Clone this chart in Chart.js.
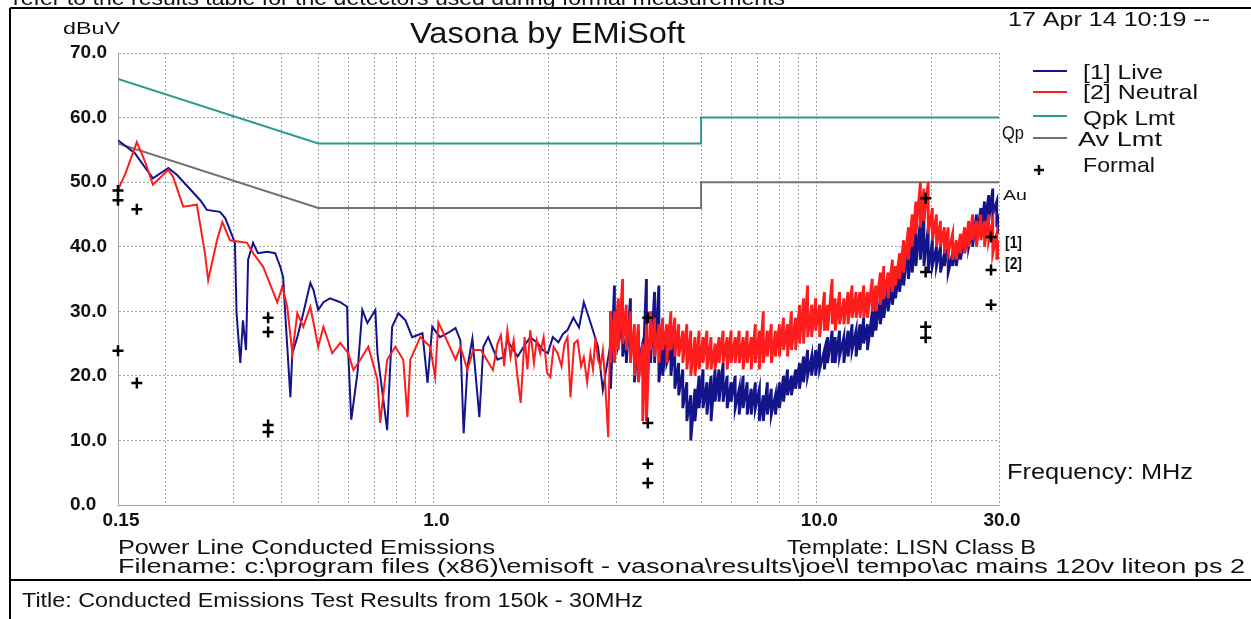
<!DOCTYPE html>
<html>
<head>
<meta charset="utf-8">
<title>Vasona by EMiSoft</title>
<script src="https://cdn.jsdelivr.net/npm/chart.js@4.4.1/dist/chart.umd.min.js"></script>
<style>
    html, body { margin: 0; padding: 0; background: #ffffff; }
    #wrap { position: relative; width: 1251px; height: 619px; }
</style>
</head>
<body>
<div id="wrap"><canvas id="emiChart" width="1251" height="619"></canvas></div>

<script>

// ---- data (MHz / dBuV) ----

const liveFreq = [0.150, 0.166, 0.185, 0.203, 0.214, 0.246, 0.256, 0.277, 0.286, 0.294,
    0.303, 0.306, 0.313, 0.318, 0.324, 0.328, 0.338, 0.348, 0.368, 0.386,
    0.398, 0.405, 0.410, 0.423, 0.428, 0.441, 0.457, 0.477, 0.486, 0.500,
    0.516, 0.537, 0.571, 0.595, 0.599, 0.610, 0.633, 0.652, 0.672, 0.705,
    0.714, 0.757, 0.780, 0.810, 0.845, 0.880, 0.936, 0.965, 0.993, 1.04,
    1.088, 1.142, 1.176, 1.199, 1.227, 1.264, 1.318, 1.35, 1.39, 1.435,
    1.47, 1.524, 1.56, 1.618, 1.66, 1.72, 1.79, 1.87, 1.93, 1.99,
    2.05, 2.12, 2.18, 2.24, 2.32, 2.40, 2.47, 2.57, 2.69, 2.77];

const liveLevel = [56.5, 54.5, 50.6, 52.2, 51.1, 47.2, 45.7, 45.4, 44.4, 42.6,
    40.6, 29.7, 22.0, 28.6, 24.0, 38.0, 40.6, 39.0, 39.2, 39.0,
    36.9, 35.3, 29.7, 16.7, 23.5, 26.0, 29.7, 34.4, 33.3, 30.2,
    31.4, 32.0, 31.4, 30.7, 23.5, 13.2, 20.4, 30.2, 28.2, 30.2,
    23.5, 11.6, 27.6, 29.7, 28.6, 26.0, 26.6, 18.9, 27.6, 26.0,
    26.6, 27.4, 25.5, 11.1, 21.4, 25.8, 13.6, 24.5, 26.0, 24.0,
    22.5, 22.9, 25.5, 24.0, 23.0, 24.5, 26.0, 25.1, 24.0, 23.5,
    26.0, 25.2, 26.5, 27.1, 29.0, 27.5, 31.4, 28.3, 24.5, 17.8];

const neutralFreq = [0.150, 0.157, 0.168, 0.177, 0.185, 0.203, 0.209, 0.222, 0.241, 0.253,
    0.258, 0.272, 0.281, 0.294, 0.326, 0.338, 0.359, 0.391, 0.403, 0.415,
    0.428, 0.441, 0.457, 0.477, 0.500, 0.516, 0.544, 0.571, 0.599, 0.618,
    0.644, 0.676, 0.714, 0.726, 0.757, 0.795, 0.834, 0.855, 0.870, 0.924,
    0.981, 1.01, 1.03, 1.074, 1.142, 1.176, 1.227, 1.27, 1.33, 1.43,
    1.47, 1.50, 1.53, 1.56, 1.59, 1.62, 1.66, 1.69, 1.73, 1.76,
    1.79, 1.83, 1.86, 1.90, 1.94, 1.98, 2.02, 2.06, 2.11, 2.16,
    2.20, 2.24, 2.28, 2.33, 2.38, 2.43, 2.47, 2.52, 2.57, 2.61,
    2.65, 2.69, 2.73, 2.77, 2.80, 2.86];

const neutralLevel = [48.8, 51.4, 56.2, 53.0, 49.6, 51.9, 50.8, 46.2, 46.5, 39.0,
    34.8, 41.0, 43.8, 41.0, 40.6, 39.0, 36.9, 31.4, 33.8, 30.7,
    23.5, 29.7, 27.6, 30.7, 24.5, 27.6, 23.5, 25.1, 23.5, 20.9,
    22.5, 24.5, 19.4, 12.7, 22.5, 24.5, 22.5, 13.6, 22.5, 26.0,
    24.5, 19.8, 28.3, 26.0, 22.5, 24.5, 20.9, 24.0, 24.0, 20.9,
    25.0, 26.3, 21.5, 27.0, 22.9, 25.5, 19.5, 15.8, 26.0, 21.0,
    27.1, 22.0, 25.5, 23.5, 26.0, 20.5, 19.8, 24.5, 23.5, 21.5,
    25.0, 26.0, 16.7, 25.0, 25.5, 21.5, 22.9, 19.0, 23.5, 21.0,
    26.0, 22.5, 21.4, 24.0, 20.4, 10.5];

// dense sweep above ~3 MHz: top and bottom of each trace's noise band
const sweepFreq = [2.90, 2.97, 3.04, 3.12, 3.19, 3.27, 3.35, 3.43, 3.52, 3.60,
    3.69, 3.78, 3.88, 3.97, 4.07, 4.17, 4.27, 4.37, 4.48, 4.59,
    4.70, 4.82, 4.94, 5.06, 5.18, 5.31, 5.44, 5.57, 5.71, 5.85,
    5.99, 6.14, 6.29, 6.44, 6.60, 6.76, 6.93, 7.10, 7.27, 7.45,
    7.63, 7.82, 8.01, 8.21, 8.41, 8.61, 8.83, 9.04, 9.26, 9.49,
    9.72, 9.96, 10.2, 10.5, 10.7, 11.0, 11.2, 11.5, 11.8, 12.1,
    12.4, 12.7, 13.0, 13.3, 13.6, 14.0, 14.3, 14.7, 15.0, 15.4,
    15.8, 16.1, 16.5, 16.9, 17.4, 17.8, 18.2, 18.7, 19.1, 19.6,
    20.1, 20.6, 21.1, 21.6, 22.1, 22.7, 23.2, 23.8, 24.4, 25.0,
    25.6, 26.2, 26.9, 27.5, 28.2, 28.9, 29.6, 30.0];

const neutralTop = [30, 30, 32, 35, 31, 30, 28, 28, 25, 28,
    30, 29, 28, 29, 28, 30, 29, 28, 27, 28,
    27, 26, 27, 26, 27, 26, 25, 26, 27, 26,
    27, 26, 27, 26, 27, 26, 28, 27, 30, 27,
    28, 27, 28, 29, 28, 30, 29, 31, 32, 34,
    31, 32, 31, 33, 31, 35, 32, 33, 32, 33,
    34, 33, 33, 34, 33, 35, 34, 36, 37, 36,
    38, 37, 39, 41, 43, 45, 47, 50, 49, 50,
    46, 45, 44, 43, 43, 42, 41, 42, 43, 44,
    45, 44, 45, 44, 45, 44, 42, 41];

const neutralBottom = [22, 22, 24, 25, 24, 22, 20, 19, 13, 13,
    24, 23, 22, 24, 22, 24, 23, 23, 22, 21,
    20, 20, 21, 22, 21, 21, 21, 22, 22, 21,
    22, 22, 22, 21, 22, 21, 22, 21, 22, 23,
    22, 23, 23, 24, 23, 24, 24, 25, 25, 26,
    26, 27, 26, 27, 27, 28, 27, 28, 28, 28,
    29, 29, 29, 29, 29, 30, 30, 31, 32, 32,
    33, 34, 35, 36, 38, 40, 42, 43, 44, 42,
    41, 40, 40, 39, 39, 38, 38, 39, 39, 40,
    41, 40, 41, 40, 41, 39, 38, 38];

const liveTop = [25, 34, 31, 28, 26, 32, 25, 27, 25, 35,
    26, 33, 34, 26, 27, 24, 26, 22, 21, 19,
    17, 18, 20, 21, 19, 20, 21, 21, 22, 20,
    19, 20, 18, 20, 19, 18, 19, 18, 17, 19,
    18, 17, 19, 20, 21, 20, 21, 22, 23, 24,
    23, 24, 25, 24, 26, 27, 26, 27, 26, 27,
    28, 27, 28, 29, 28, 30, 31, 32, 32, 34,
    35, 35, 37, 38, 40, 41, 43, 44, 45, 43,
    41, 40, 40, 39, 40, 39, 40, 41, 42, 43,
    43, 45, 46, 47, 48, 49, 47, 45];

const liveBottom = [18, 24, 25, 23, 22, 24, 19, 22, 20, 24,
    22, 22, 19, 20, 22, 20, 18, 17, 15, 13,
    10, 13, 15, 15, 14, 13, 16, 16, 16, 15,
    16, 15, 14, 15, 14, 14, 15, 13, 13, 14,
    14, 14, 15, 16, 17, 17, 18, 18, 19, 20,
    20, 20, 21, 21, 22, 22, 22, 23, 22, 23,
    24, 23, 24, 25, 24, 26, 27, 28, 29, 30,
    31, 32, 33, 34, 35, 36, 37, 38, 37, 36,
    37, 37, 36, 37, 36, 37, 37, 38, 39, 40,
    40, 41, 42, 43, 44, 45, 43, 42];

const limitFreq = [0.15, 0.5, 5, 5, 30];
const qpkLevel = [66, 56, 56, 60, 60];
const avLevel = [56, 46, 46, 50, 50];

const formalFreq = [0.15, 0.15, 0.168, 0.15, 0.168, 0.37, 0.37, 0.37, 0.37,
    3.63, 3.63, 3.63, 3.63, 19.3, 19.3, 19.3, 19.3, 28.6, 28.6, 28.6];
const formalLevel = [48.7, 47.2, 45.8, 23.9, 18.9, 29.0, 26.8, 12.4, 11.3,
    29.0, 12.7, 6.4, 3.4, 47.5, 36.1, 27.6, 25.9, 41.5, 36.4, 31.0];

const xGridValues = [0.15, 0.2, 0.3, 0.4, 0.5, 0.6, 0.7, 0.8, 0.9,
    1, 2, 3, 4, 5, 6, 7, 8, 9, 10, 20, 30];
const xLabelValues = [0.15, 1, 10, 30];
const xLabelText = ["0.15", "1.0", "10.0", "30.0"];


const LIVE = "#14148a";
const NEUTRAL = "#ff1c1c";
const QPK = "#2e9a8c";
const AV = "#717171";


function pairs(freq, level) {

    return freq.map((f, i) => ({ x: f, y: level[i] }));

}


function sweep(top, bottom) {

    const pts = [];

    sweepFreq.forEach((f, i) => {

        pts.push({ x: f, y: top[i] });
        pts.push({ x: f, y: bottom[i] });

    });

    return pts;

}


// thicker pen in the dense sweep so the noise band fills in
const traceWidth = ctx => (ctx.p0.parsed.x >= sweepFreq[0] ? 2.8 : 2);


function fitText(ctx, text, x, y, width, font) {

    ctx.save();
    ctx.font = font;
    const w = ctx.measureText(text).width;
    ctx.translate(x, y);
    ctx.scale(width / w, 1);
    ctx.fillText(text, 0, 0);
    ctx.restore();

}


const decorations = {

    id: "decorations",

    beforeDraw(chart) {

        const ctx = chart.ctx;

        ctx.save();
        ctx.fillStyle = "#ffffff";
        ctx.fillRect(0, 0, chart.width, chart.height);

        ctx.strokeStyle = "#000000";
        ctx.lineWidth = 2;
        ctx.beginPath();
        ctx.moveTo(10, 8);
        ctx.lineTo(1251, 8);
        ctx.moveTo(10, 8);
        ctx.lineTo(10, 619);
        ctx.moveTo(10, 580);
        ctx.lineTo(1251, 580);
        ctx.stroke();
        ctx.restore();

    },

    afterDraw(chart) {

        const ctx = chart.ctx;
        const y = chart.scales.y;

        ctx.save();
        ctx.fillStyle = "#111111";
        ctx.textAlign = "left";

        // page text around the chart image
        ctx.textBaseline = "alphabetic";
        fitText(ctx, "refer to the results table for the detectors used during formal measurements",
            13, 5, 772, "20px Arial");
        ctx.textBaseline = "middle";
        fitText(ctx, "Title: Conducted Emissions Test Results from 150k - 30MHz",
            22, 601, 621, "20px Arial");

        fitText(ctx, "Vasona by EMiSoft", 410, 35, 275, "30px Arial");
        fitText(ctx, "dBuV", 63, 29, 57, "17px Arial");
        fitText(ctx, "17 Apr 14 10:19 --", 1008, 20, 202, "21px Arial");

        // legend
        const items = [
            { text: "[1] Live", color: LIVE, y: 71, ty: 73, w: 80 },
            { text: "[2] Neutral", color: NEUTRAL, y: 92, ty: 93, w: 115 },
            { text: "Qpk Lmt", color: QPK, y: 116, ty: 119, w: 92 },
            { text: "Av Lmt", color: AV, y: 138, ty: 140, w: 84 }
        ];

        items.forEach(item => {

            ctx.strokeStyle = item.color;
            ctx.lineWidth = 2;
            ctx.beginPath();
            ctx.moveTo(1033, item.y);
            ctx.lineTo(1067, item.y);
            ctx.stroke();
            fitText(ctx, item.text, item.text === "Av Lmt" ? 1078 : 1083, item.ty, item.w, "21px Arial");

        });

        ctx.strokeStyle = "#111111";
        ctx.lineWidth = 2.5;
        ctx.beginPath();
        ctx.moveTo(1034, 170);
        ctx.lineTo(1044, 170);
        ctx.moveTo(1039, 165);
        ctx.lineTo(1039, 175);
        ctx.stroke();
        fitText(ctx, "Formal", 1083, 166, 72, "21px Arial");

        // limit tags and trace tags at the right edge
        fitText(ctx, "Qp", 1002, y.getPixelForValue(qpkLevel[4]) + 16, 22, "18px Arial");
        fitText(ctx, "Au", 1003, y.getPixelForValue(avLevel[4]) + 14, 24, "15px Arial");
        fitText(ctx, "[1]", 1005, 244, 17, "bold 16px Arial");
        fitText(ctx, "[2]", 1005, 265, 17, "bold 16px Arial");

        fitText(ctx, "Frequency: MHz", 1007, 473, 186, "22px Arial");

        fitText(ctx, "Power Line Conducted Emissions", 118, 548, 377, "21px Arial");
        fitText(ctx, "Template: LISN Class B", 787, 548, 249, "21px Arial");
        fitText(ctx, "Filename: c:\\program files (x86)\\emisoft - vasona\\results\\joe\\l tempo\\ac mains 120v liteon ps 2",
            118, 567, 1127, "21px Arial");

        ctx.restore();

    }

};


const emiChart = new Chart(
    document.getElementById("emiChart"),
    {

        type: "line",

        data: {

            datasets: [
                {
                    label: "Formal",
                    data: pairs(formalFreq, formalLevel),
                    showLine: false,
                    pointStyle: "cross",
                    pointRadius: 5.5,
                    pointBorderWidth: 2.5,
                    borderColor: "#000000",
                    clip: false,
                    order: 0
                },
                {
                    label: "[2] Neutral",
                    data: pairs(neutralFreq, neutralLevel).concat(sweep(neutralTop, neutralBottom)),
                    borderColor: NEUTRAL,
                    borderWidth: 2,
                    segment: { borderWidth: traceWidth },
                    pointRadius: 0,
                    tension: 0,
                    order: 1
                },
                {
                    label: "[1] Live",
                    data: pairs(liveFreq, liveLevel).concat(sweep(liveTop, liveBottom)),
                    borderColor: LIVE,
                    borderWidth: 2,
                    segment: { borderWidth: traceWidth },
                    pointRadius: 0,
                    tension: 0,
                    order: 2
                },
                {
                    label: "Qpk Lmt",
                    data: pairs(limitFreq, qpkLevel),
                    borderColor: QPK,
                    borderWidth: 2,
                    pointRadius: 0,
                    order: 3
                },
                {
                    label: "Av Lmt",
                    data: pairs(limitFreq, avLevel),
                    borderColor: AV,
                    borderWidth: 2,
                    pointRadius: 0,
                    order: 4
                }
            ]

        },

        options: {

            responsive: false,
            animation: false,
            events: [],

            layout: {
                padding: { left: 70, top: 53, right: 252, bottom: 84 }
            },

            plugins: {
                legend: { display: false },
                tooltip: { enabled: false }
            },

            scales: {

                x: {
                    type: "logarithmic",
                    min: 0.15,
                    max: 30,
                    afterBuildTicks: s => {
                        s.ticks = xGridValues.map(v => ({ value: v }));
                    },
                    afterFit: s => {
                        s.height = 30;
                    },
                    grid: {
                        color: "#a3a3a3",
                        lineWidth: 1,
                        drawTicks: false
                    },
                    border: {
                        display: true,
                        color: "#a3a3a3",
                        dash: [2, 2]
                    },
                    ticks: {
                        autoSkip: false,
                        maxRotation: 0,
                        padding: 4,
                        labelOffset: 3,
                        color: "#111111",
                        font: { family: "Arial", weight: "bold", size: 19 },
                        callback: value => {
                            const i = xLabelValues.indexOf(value);
                            return i >= 0 ? xLabelText[i] : "";
                        }
                    }
                },

                y: {
                    min: 0,
                    max: 70,
                    afterFit: s => {
                        s.width = 48;
                    },
                    grid: {
                        color: "#a3a3a3",
                        lineWidth: 1,
                        drawTicks: false
                    },
                    border: {
                        display: true,
                        color: "#a3a3a3",
                        dash: [2, 2]
                    },
                    ticks: {
                        stepSize: 10,
                        crossAlign: "far",
                        color: "#111111",
                        font: { family: "Arial", weight: "bold", size: 19 },
                        callback: value => value.toFixed(1)
                    }
                }

            }

        },

        plugins: [decorations]

    }

);

</script>
</body>
</html>
